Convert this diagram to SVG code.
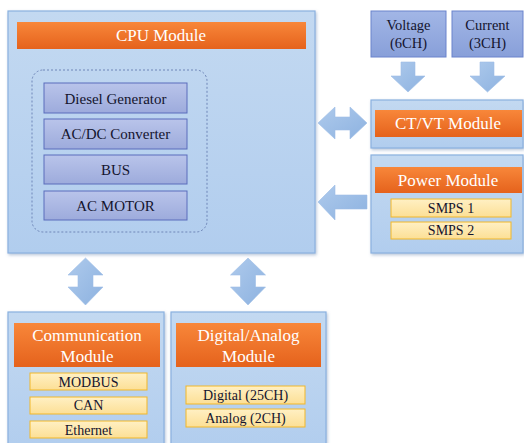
<svg xmlns="http://www.w3.org/2000/svg" width="524" height="443" viewBox="0 0 524 443">
  <defs>
    <linearGradient id="panelFill" x1="0" y1="0" x2="0" y2="1">
      <stop offset="0" stop-color="#c3d9f1"/>
      <stop offset="1" stop-color="#b1cdee"/>
    </linearGradient>
    <linearGradient id="titleFill" x1="0" y1="0" x2="0" y2="1">
      <stop offset="0" stop-color="#f8873a"/>
      <stop offset="1" stop-color="#e5621c"/>
    </linearGradient>
    <linearGradient id="itemFill" x1="0" y1="0" x2="0" y2="1">
      <stop offset="0" stop-color="#b9c4ea"/>
      <stop offset="1" stop-color="#9dabdc"/>
    </linearGradient>
    <linearGradient id="inputFill" x1="0" y1="0" x2="0" y2="1">
      <stop offset="0" stop-color="#a2b6e6"/>
      <stop offset="1" stop-color="#889fd9"/>
    </linearGradient>
    <linearGradient id="tagFill" x1="0" y1="0" x2="0" y2="1">
      <stop offset="0" stop-color="#fff0c4"/>
      <stop offset="1" stop-color="#fcdf95"/>
    </linearGradient>
    <linearGradient id="arrowFill" x1="0" y1="0" x2="1" y2="1">
      <stop offset="0" stop-color="#aecaec"/>
      <stop offset="1" stop-color="#8db2e0"/>
    </linearGradient>
    <filter id="shadow" x="-10%" y="-10%" width="120%" height="120%">
      <feDropShadow dx="1" dy="1.5" stdDeviation="1.5" flood-color="#5a7aa8" flood-opacity="0.45"/>
    </filter>
    <style>
      text { font-family: 'Liberation Serif', 'DejaVu Serif', serif; text-anchor: middle; }
      .panel { fill: url(#panelFill); stroke: #8ab1e0; stroke-width: 1.2; filter: url(#shadow); }
      .title { fill: url(#titleFill); }
      .titleText { font-size: 17px; fill: #ffffff; }
      .item { fill: url(#itemFill); stroke: #5a6cbc; stroke-width: 1; }
      .itemText { font-size: 15px; fill: #14142e; }
      .input { fill: url(#inputFill); stroke: #6a83cc; stroke-width: 1; }
      .inputText { font-size: 14.5px; fill: #14142e; }
      .tag { fill: url(#tagFill); stroke: #f1b72a; stroke-width: 1; }
      .tagText { font-size: 14px; fill: #14142e; }
      .group { fill: none; stroke: #6f86b8; stroke-width: 1; stroke-dasharray: 2 2; }
      .arrow { fill: url(#arrowFill); stroke: #9dbde6; stroke-width: 0.6; }
    </style>
  </defs>

  <!-- CPU module -->
  <g id="cpu-module">
    <rect class="panel" x="8" y="11" width="307" height="242"/>
    <rect class="title" x="17" y="22" width="289" height="27"/>
    <text class="titleText" x="161" y="41" font-family="Liberation Serif">CPU Module</text>
    <rect class="group" x="32" y="70" width="175" height="162" rx="11"/>
  </g>
  <g id="diesel-generator">
    <rect class="item" x="44" y="83" width="143" height="30"/>
    <text class="itemText" x="115.5" y="103.5">Diesel Generator</text>
  </g>
  <g id="acdc-converter">
    <rect class="item" x="44" y="119" width="143" height="30"/>
    <text class="itemText" x="115.5" y="139">AC/DC Converter</text>
  </g>
  <g id="bus">
    <rect class="item" x="44" y="155" width="143" height="29"/>
    <text class="itemText" x="115.5" y="175">BUS</text>
  </g>
  <g id="ac-motor">
    <rect class="item" x="44" y="191" width="143" height="29"/>
    <text class="itemText" x="115.5" y="211">AC MOTOR</text>
  </g>

  <!-- Measurement inputs -->
  <g id="voltage">
    <rect class="input" x="371" y="11" width="75" height="46"/>
    <text class="inputText" x="408.5" y="30">Voltage</text>
    <text class="inputText" x="408.5" y="48">(6CH)</text>
  </g>
  <g id="current">
    <rect class="input" x="452" y="11" width="71" height="46"/>
    <text class="inputText" x="487.5" y="30">Current</text>
    <text class="inputText" x="487.5" y="48">(3CH)</text>
  </g>

  <!-- CT/VT module -->
  <g id="ctvt-module">
    <rect class="panel" x="371" y="100" width="152" height="48"/>
    <rect class="title" x="375" y="110" width="147" height="27"/>
    <text class="titleText" x="448" y="129">CT/VT Module</text>
  </g>

  <!-- Power module -->
  <g id="power-module">
    <rect class="panel" x="371" y="155" width="152" height="98"/>
    <rect class="title" x="375" y="167" width="147" height="26"/>
    <text class="titleText" x="448" y="186">Power Module</text>
    <rect class="tag" x="391" y="199" width="120" height="18"/>
    <text class="tagText" x="451" y="213">SMPS 1</text>
    <rect class="tag" x="391" y="222" width="120" height="17"/>
    <text class="tagText" x="451" y="235">SMPS 2</text>
  </g>

  <!-- Communication module -->
  <g id="communication-module">
    <rect class="panel" x="8" y="312" width="156" height="140"/>
    <rect class="title" x="14" y="323" width="146" height="44"/>
    <text class="titleText" x="87" y="341">Communication</text>
    <text class="titleText" x="87" y="362">Module</text>
    <rect class="tag" x="30" y="373" width="117" height="17"/>
    <text class="tagText" x="88.5" y="387">MODBUS</text>
    <rect class="tag" x="30" y="397" width="117" height="17"/>
    <text class="tagText" x="88.5" y="410">CAN</text>
    <rect class="tag" x="30" y="421" width="117" height="17"/>
    <text class="tagText" x="88.5" y="435">Ethernet</text>
  </g>

  <!-- Digital / Analog module -->
  <g id="digital-analog-module">
    <rect class="panel" x="171" y="312" width="155" height="140"/>
    <rect class="title" x="176" y="323" width="145" height="44"/>
    <text class="titleText" x="248.5" y="341">Digital/Analog</text>
    <text class="titleText" x="248.5" y="362">Module</text>
    <rect class="tag" x="186" y="386" width="119" height="18"/>
    <text class="tagText" x="245.5" y="400">Digital (25CH)</text>
    <rect class="tag" x="186" y="409" width="119" height="18"/>
    <text class="tagText" x="245.5" y="423">Analog (2CH)</text>
  </g>

  <!-- Block arrows between modules -->
  <g id="connectors">
    <!-- Voltage -> CT/VT -->
    <path class="arrow" d="M401,62 H415 V76 H425 L408,92 L391,76 H401 Z"/>
    <!-- Current -> CT/VT -->
    <path class="arrow" d="M480,62 H494 V76 H505 L487.5,92 L470,76 H480 Z"/>
    <!-- CPU <-> CT/VT -->
    <path class="arrow" d="M318,123 L335,107 V117 H350 V107 L367,123 L350,139 V130 H335 V139 Z"/>
    <!-- Power -> CPU -->
    <path class="arrow" d="M318,202 L335,185 V195 H367 V209 H335 V220 Z"/>
    <!-- CPU <-> Communication -->
    <path class="arrow" d="M85.5,258 L103,275 H93 V287 H103 L85.5,305 L68,287 H78 V275 H68 Z"/>
    <!-- CPU <-> Digital/Analog -->
    <path class="arrow" d="M248,258 L265.5,275 H255.5 V287 H265.5 L248,305 L230.5,287 H240.5 V275 H230.5 Z"/>
  </g>
</svg>
